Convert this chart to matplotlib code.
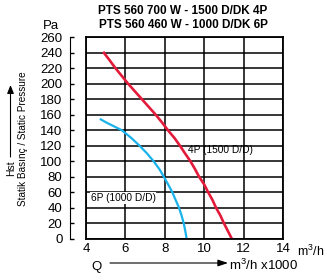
import matplotlib
matplotlib.use('Agg')
import matplotlib.pyplot as plt

plt.rcParams['font.family'] = ['Liberation Sans', 'DejaVu Sans']

# fan curves (Q in m3/h x1000, static pressure in Pa)
p_4p = [240, 230, 220, 210, 200, 190, 180, 170, 160, 150, 140, 130, 120,
        110, 100, 90, 80, 70, 60, 50, 40, 30, 20, 10, 0]
q_4p = [4.91, 5.21, 5.50, 5.82, 6.14, 6.49, 6.84, 7.19, 7.54, 7.86, 8.16, 8.49, 8.77,
        9.03, 9.30, 9.53, 9.74, 10.00, 10.20, 10.42, 10.60, 10.82, 11.00, 11.20, 11.40]
p_6p = [154, 150, 140, 130, 120, 110, 100, 90, 80, 70, 60, 50, 40, 30, 20, 10, 0]
q_6p = [4.75, 5.03, 5.82, 6.30, 6.72, 7.10, 7.43, 7.72, 7.95, 8.17, 8.38, 8.55, 8.72,
        8.85, 8.96, 9.04, 9.11]

xticks = [4, 6, 8, 10, 12, 14]
yticks = list(range(0, 261, 20))

W, H = 327, 280
fig = plt.figure(figsize=(W / 100, H / 100), dpi=100)
bottom = 1 - 238.7 / H
height = (238.7 - 37.3) / H
ax = fig.add_axes([86 / W, bottom, (283 - 86) / W, height])

ax.set_xlim(4, 14)
ax.set_ylim(0, 260)
ax.set_xticks(xticks)
ax.set_yticks(yticks)
ax.tick_params(axis='x', length=0, pad=3, labelsize=9.5)
ax.tick_params(axis='y', left=False, labelleft=False)
ax.grid(True, color='black', linewidth=1.1)
for s in ax.spines.values():
    s.set_linewidth(1.3)

ax.plot(q_4p, p_4p, color='#e31b3b', linewidth=1.9)
ax.plot(q_6p, p_6p, color='#1ab2ea', linewidth=1.6)

ax.text(9.19, 114.5, '4P (1500 D/D)', fontsize=7.3, va='center', ha='left')
ax.text(4.24, 52.5, '6P (1000 D/D)', fontsize=7.3, va='center', ha='left',
        bbox=dict(facecolor='white', edgecolor='none', pad=0.5))

# separate pressure scale, left of the box
sc = fig.add_axes([69.5 / W, bottom, 0.0001, height])
sc.set_ylim(0, 260)
sc.set_yticks(yticks)
sc.set_xticks([])
sc.patch.set_visible(False)
for s in ['top', 'right', 'bottom']:
    sc.spines[s].set_visible(False)
sc.tick_params(axis='y', direction='in', length=3, width=1, pad=5, labelsize=9.5)

# titles
fig.text(183 / W, 1 - 11 / H, 'PTS 560 700 W - 1500 D/DK 4P', ha='center', va='center',
         fontsize=8.5, fontweight='bold')
fig.text(183 / W, 1 - 24.5 / H, 'PTS 560 460 W - 1000 D/DK 6P', ha='center', va='center',
         fontsize=8.5, fontweight='bold')
fig.text(51 / W, 1 - 25.7 / H, 'Pa', ha='center', va='center', fontsize=9.5)

# y axis caption
fig.text(23 / W, 1 - 139 / H, 'Statik Basınç / Static Pressure', rotation=90,
         ha='center', va='center', fontsize=7.2)
fig.text(11 / W, 1 - 168 / H, 'Hst', rotation=90, ha='center', va='center', fontsize=7.5)
ax.annotate('', xy=(10.5, H - 85), xytext=(10.5, H - 157), xycoords='figure pixels',
            textcoords='figure pixels', annotation_clip=False,
            arrowprops=dict(arrowstyle='-|>,head_length=0.5,head_width=0.2',
                            color='black', linewidth=0.8, shrinkA=0, shrinkB=0))

# x axis caption
fig.text(297 / W, 1 - 251 / H, '$\\mathregular{m^3/h}$', ha='left', va='center',
         fontsize=9)
fig.text(97 / W, 1 - 267 / H, 'Q', ha='center', va='center', fontsize=9.5)
ax.annotate('', xy=(228, H - 263), xytext=(110, H - 263), xycoords='figure pixels',
            textcoords='figure pixels', annotation_clip=False,
            arrowprops=dict(arrowstyle='-|>,head_length=0.6,head_width=0.2',
                            color='black', linewidth=0.8, shrinkA=0, shrinkB=0))
fig.text(229 / W, 1 - 265 / H, '$\\mathregular{m^3/h}$ x1000', ha='left', va='center',
         fontsize=9.5)

fig.savefig('out.png', dpi=100)
